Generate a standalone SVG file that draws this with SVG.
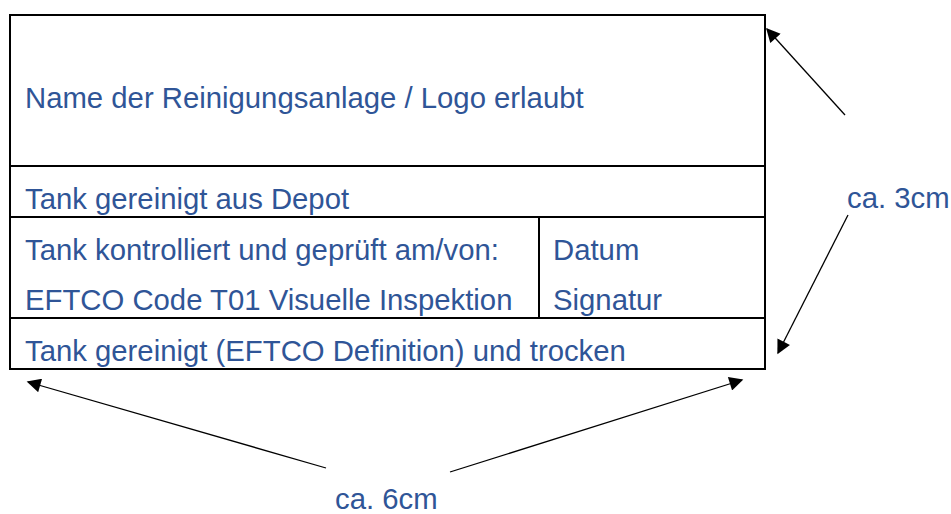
<svg xmlns="http://www.w3.org/2000/svg" width="951" height="514" viewBox="0 0 951 514">
<style>
.t{font-family:"Liberation Sans",Arial,sans-serif;font-size:29.3px;fill:#2F5597}
.b{fill:none;stroke:#000;stroke-width:2}
.c{stroke:#000;stroke-width:1.3;fill:none}
</style>
<defs>
<marker id="ah" viewBox="0 0 10 10" refX="9" refY="5" markerWidth="15" markerHeight="14" markerUnits="userSpaceOnUse" orient="auto">
<path d="M0,0 L10,5 L0,10 z" fill="#000"/>
</marker>
</defs>
<rect width="951" height="514" fill="#fff"/>
<g id="table">
<rect class="b" x="10" y="15" width="755" height="354"/>
<line class="b" x1="10" y1="166" x2="765" y2="166"/>
<line class="b" x1="10" y1="217" x2="765" y2="217"/>
<line class="b" x1="10" y1="318" x2="765" y2="318"/>
<line class="b" x1="539" y1="217" x2="539" y2="318"/>
</g>
<g id="row-name"><text class="t" x="25" y="108">Name der Reinigungsanlage / Logo erlaubt</text></g>
<g id="row-depot"><text class="t" x="25" y="209">Tank gereinigt aus Depot</text></g>
<g id="row-check">
<text class="t" x="25" y="260">Tank kontrolliert und geprüft am/von:</text>
<text class="t" x="25" y="310">EFTCO Code T01 Visuelle Inspektion</text>
</g>
<g id="row-sign">
<text class="t" x="553" y="260">Datum</text>
<text class="t" x="553" y="310">Signatur</text>
</g>
<g id="row-clean"><text class="t" x="25" y="361">Tank gereinigt (EFTCO Definition) und trocken</text></g>
<g id="label-3cm"><text class="t" x="847" y="208">ca. 3cm</text></g>
<g id="label-6cm"><text class="t" x="335" y="509">ca. 6cm</text></g>
<g id="connectors">
<line class="c" x1="845" y1="115" x2="767" y2="29" marker-end="url(#ah)"/>
<line class="c" x1="848" y1="215" x2="778" y2="353" marker-end="url(#ah)"/>
<line class="c" x1="326" y1="468" x2="28" y2="382" marker-end="url(#ah)"/>
<line class="c" x1="450" y1="472" x2="742" y2="380" marker-end="url(#ah)"/>
</g>
</svg>
